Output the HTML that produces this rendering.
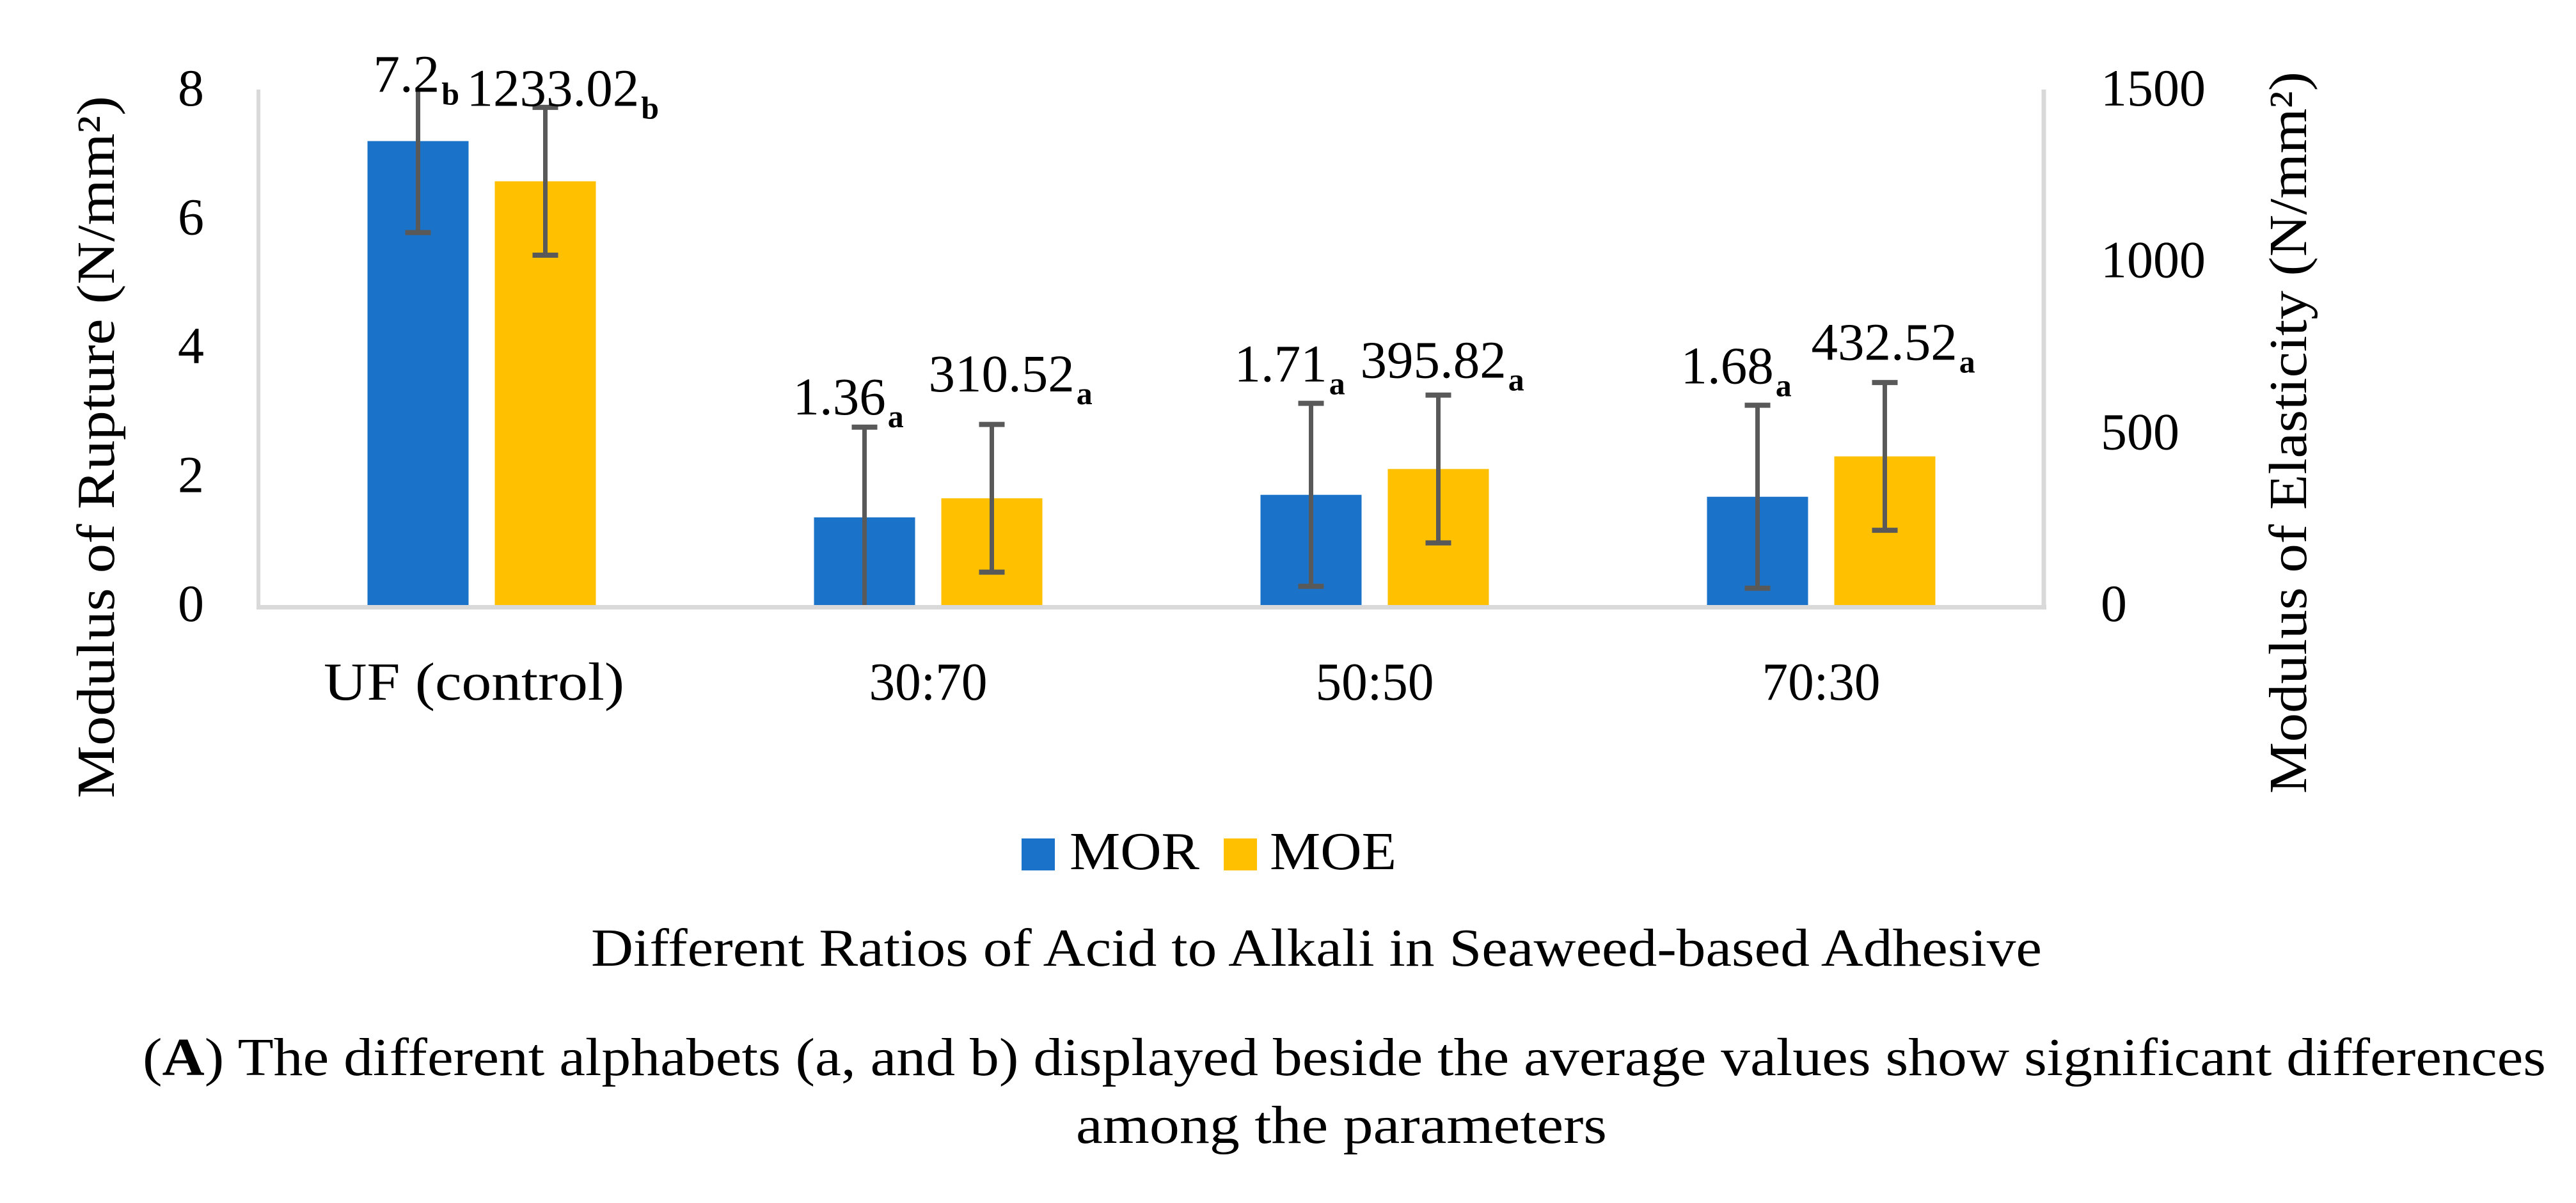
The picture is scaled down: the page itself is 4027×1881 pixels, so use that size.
<!DOCTYPE html>
<html lang="en">
<head>
<meta charset="utf-8">
<title>MOR and MOE by acid to alkali ratio</title>
<style>
html,body{margin:0;padding:0;background:#fff;}
svg{display:block;}
text{font-family:"Liberation Serif",serif;fill:#000;}
</style>
</head>
<body>
<svg id="chart" xmlns="http://www.w3.org/2000/svg" width="4027" height="1881" viewBox="0 0 4027 1881">
  <rect x="0" y="0" width="4027" height="1881" fill="#ffffff"/>
  <g id="marks"></g>
  <text transform="translate(178,1248) rotate(-90)" font-size="84" textLength="1098" lengthAdjust="spacingAndGlyphs">Modulus of Rupture (N/mm²)</text>
  <text transform="translate(3605,1241) rotate(-90)" font-size="84" textLength="1129" lengthAdjust="spacingAndGlyphs">Modulus of Elasticity (N/mm²)</text>
  <rect x="1597" y="1311" width="52" height="50" fill="#1a73c8"/>
  <text x="1672" y="1359" font-size="84" textLength="203" lengthAdjust="spacingAndGlyphs">MOR</text>
  <rect x="1913" y="1311" width="52" height="50" fill="#ffc000"/>
  <text x="1985" y="1359" font-size="84" textLength="198" lengthAdjust="spacingAndGlyphs">MOE</text>
  <text x="924" y="1510" font-size="84" textLength="2268" lengthAdjust="spacingAndGlyphs">Different Ratios of Acid to Alkali in Seaweed-based Adhesive</text>
  <text x="223" y="1681" font-size="84" textLength="3757" lengthAdjust="spacingAndGlyphs">(<tspan font-weight="bold">A</tspan>) The different alphabets (a, and b) displayed beside the average values show significant differences</text>
  <text x="1682" y="1787" font-size="84" textLength="830" lengthAdjust="spacingAndGlyphs">among the parameters</text>
</svg>
<script>
const categories = ['UF (control)', '30:70', '50:50', '70:30'];
const morValues = [7.2, 1.36, 1.71, 1.68];
const moeValues = [1233.02, 310.52, 395.82, 432.52];
const morErrors = [1.42, 1.4, 1.42, 1.42];
const moeErrors = [215, 215, 215, 215];
const morLetters = ['b', 'a', 'a', 'a'];
const moeLetters = ['b', 'a', 'a', 'a'];
const leftTicks = [0, 2, 4, 6, 8];
const rightTicks = [0, 500, 1000, 1500];

const NS = 'http://www.w3.org/2000/svg';
const root = document.getElementById('marks');
const plot = {left: 404, right: 3196, top: 140, bottom: 946};
const morMax = 8;
const moeMax = 1500;
const barWidth = 158;
const barOffset = 99.5;
const tickBaselineShift = 25;

function yMor(v) { return plot.bottom - (v / morMax) * (plot.bottom - plot.top); }
function yMoe(v) { return plot.bottom - (v / moeMax) * (plot.bottom - plot.top); }
function xCat(i) { return plot.left + (plot.right - plot.left) * (i + 0.5) / categories.length; }

function shape(tag, props, parent) {
  const el = document.createElementNS(NS, tag);
  Object.keys(props).forEach(function (k) { el.setAttribute(k, props[k]); });
  (parent || root).appendChild(el);
  return el;
}

function drawBar(cx, yTop, color, name) {
  const el = shape('rect', {x: cx - barWidth / 2, y: yTop, width: barWidth, height: plot.bottom - yTop, fill: color});
  
  
}

function drawError(cx, value, err, yFn, maxV, name) {
  const g = shape('g', {stroke: '#595959', 'stroke-width': 7, fill: 'none'});
  
  
  const hi = value + err;
  const lo = value - err;
  const yHi = yFn(Math.min(hi, maxV));
  const yLo = yFn(Math.max(lo, 0));
  shape('line', {x1: cx, x2: cx, y1: yHi, y2: yLo}, g);
  if (hi <= maxV) { shape('line', {x1: cx - 20, x2: cx + 20, y1: yHi, y2: yHi, 'stroke-width': 8}, g); }
  if (lo >= 0) { shape('line', {x1: cx - 20, x2: cx + 20, y1: yLo, y2: yLo, 'stroke-width': 8}, g); }
}

function drawLabel(x, y, value, letter, name) {
  const t = shape('text', {x: x, y: y, 'font-size': 83});
  
  
  t.appendChild(document.createTextNode(String(value)));
  const s = shape('tspan', {dx: 3, dy: 20, 'font-size': 50, 'font-weight': 'bold'}, t);
  s.textContent = letter;
}

const morLabelPlacement = [[-70, -77], [-112, -161], [-120, -177], [-120, -177]];
const moeLabelPlacement = [[-123, -118], [-99, -167], [-122, -143], [-115, -151]];

categories.forEach(function (cat, i) {
  const cMor = xCat(i) - barOffset;
  const cMoe = xCat(i) + barOffset;
  drawBar(cMor, yMor(morValues[i]), '#1a73c8', 'bar-mor-' + i);
  drawBar(cMoe, yMoe(moeValues[i]), '#ffc000', 'bar-moe-' + i);
});

const leftAxis = shape('line', {x1: plot.left, x2: plot.left, y1: plot.top, y2: plot.bottom + 7, stroke: '#d9d9d9', 'stroke-width': 6});


const rightAxis = shape('line', {x1: plot.right - 1, x2: plot.right - 1, y1: plot.top, y2: plot.bottom + 7, stroke: '#d9d9d9', 'stroke-width': 7});


const baseLine = shape('line', {x1: plot.left - 3, x2: plot.right + 3, y1: plot.bottom + 3.5, y2: plot.bottom + 3.5, stroke: '#d9d9d9', 'stroke-width': 7});



const categoryLabelWidths = [470, 185, 185, 185];
const categoryLabelShifts = [-12, 0, 0, 0];

categories.forEach(function (cat, i) {
  const cMor = xCat(i) - barOffset;
  const cMoe = xCat(i) + barOffset;
  drawError(cMor, morValues[i], morErrors[i], yMor, morMax, 'error-bar-mor-' + i);
  drawError(cMoe, moeValues[i], moeErrors[i], yMoe, moeMax, 'error-bar-moe-' + i);
  drawLabel(cMor + morLabelPlacement[i][0], yMor(morValues[i]) + morLabelPlacement[i][1], morValues[i], morLetters[i], 'data-label-mor-' + i);
  drawLabel(cMoe + moeLabelPlacement[i][0], yMoe(moeValues[i]) + moeLabelPlacement[i][1], moeValues[i], moeLetters[i], 'data-label-moe-' + i);
  const xl = shape('text', {x: xCat(i) - categoryLabelWidths[i] / 2 + categoryLabelShifts[i], y: 1094, 'font-size': 84, textLength: categoryLabelWidths[i], lengthAdjust: 'spacingAndGlyphs'});
  
  
  xl.textContent = cat;
});

leftTicks.forEach(function (v) {
  const t = shape('text', {x: 278, y: yMor(v) + tickBaselineShift, 'font-size': 82});
  
  
  t.textContent = v;
});
rightTicks.forEach(function (v) {
  const t = shape('text', {x: 3284, y: yMoe(v) + tickBaselineShift, 'font-size': 82});
  
  
  t.textContent = v;
});
</script>
</body>
</html>
